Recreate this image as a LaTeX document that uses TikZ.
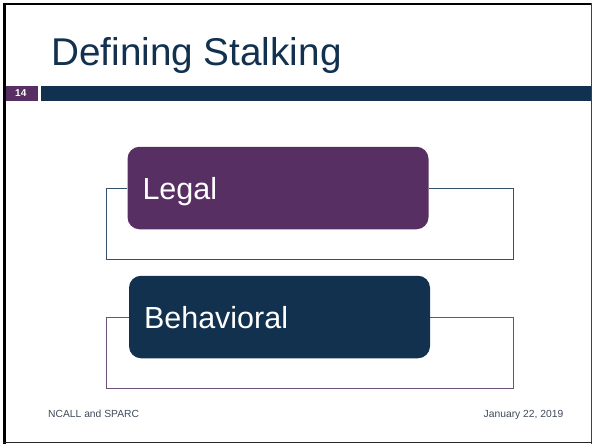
\documentclass[tikz,border=0pt]{standalone}
\usepackage{fontspec}
\setmainfont{Liberation Sans}
\definecolor{slidenavy}{HTML}{12314F}
\definecolor{slidepurple}{HTML}{572F62}
\definecolor{footgray}{HTML}{3F4A59}
\begin{document}
\begin{tikzpicture}[x=1pt, y=-1pt]
    \useasboundingbox (0,0) rectangle (592,445);

    % slide frame
    \begin{scope}[every node/.style={inner sep=0pt}]
        \draw [line width=2.7pt] (4.6,3) -- (4.6,443.5);
        \draw [line width=2pt] (3,4) -- (592,4);
        \draw [line width=1.3pt, black!75] (591.2,3) -- (591.2,443.5);
        \draw [line width=1.3pt, black!85] (3,442.8) -- (592,442.8);
    \end{scope}

    % title and bar
    \node [anchor=base west, inner sep=0pt, text=slidenavy, font=\fontsize{38.7}{44}\selectfont] (title) at (51,65) {Defining Stalking};
    \fill [slidepurple] (6,86) rectangle (37.7,100.7);
    \fill [slidenavy] (41,86) rectangle (591,100.7);
    \node [text=white, inner sep=0pt, font=\fontsize{10}{12}\selectfont\bfseries] (num) at (20.8,93.5) {14};

    % boxes
    \begin{scope}[every node/.style={rounded corners=12pt, text=white, minimum height=82.5pt, text width=271pt, inner xsep=15pt, text height=22pt, text depth=0pt, align=left, font=\fontsize{30.5}{36}\selectfont}]
        \node [fill=slidepurple] (legal) at (278,188) {Legal};
        \node [fill=slidenavy] (behav) at (279.5,317) {Behavioral};
    \end{scope}

    \coordinate (legalbl) at (106,259);
    \coordinate (legalbr) at (513,259);
    \coordinate (behavbl) at (106,388.3);
    \coordinate (behavbr) at (513,388.3);

    \begin{scope}[line width=1pt]
        \draw [slidenavy!85] (legal.west) -| (legalbl) -- (legalbr) |- (legal.east);
        \draw [slidepurple!85] (behav.west) -| (behavbl) -- (behavbr) |- (behav.east);
    \end{scope}

    % footer
    \node [anchor=base west, inner sep=0pt, text=footgray, font=\fontsize{10.3}{12}\selectfont] (foot) at (48,417) {NCALL and SPARC};
    \node [anchor=base east, inner sep=0pt, text=footgray, font=\fontsize{10.3}{12}\selectfont] (date) at (563.5,417) {January 22, 2019};
\end{tikzpicture}
\end{document}
